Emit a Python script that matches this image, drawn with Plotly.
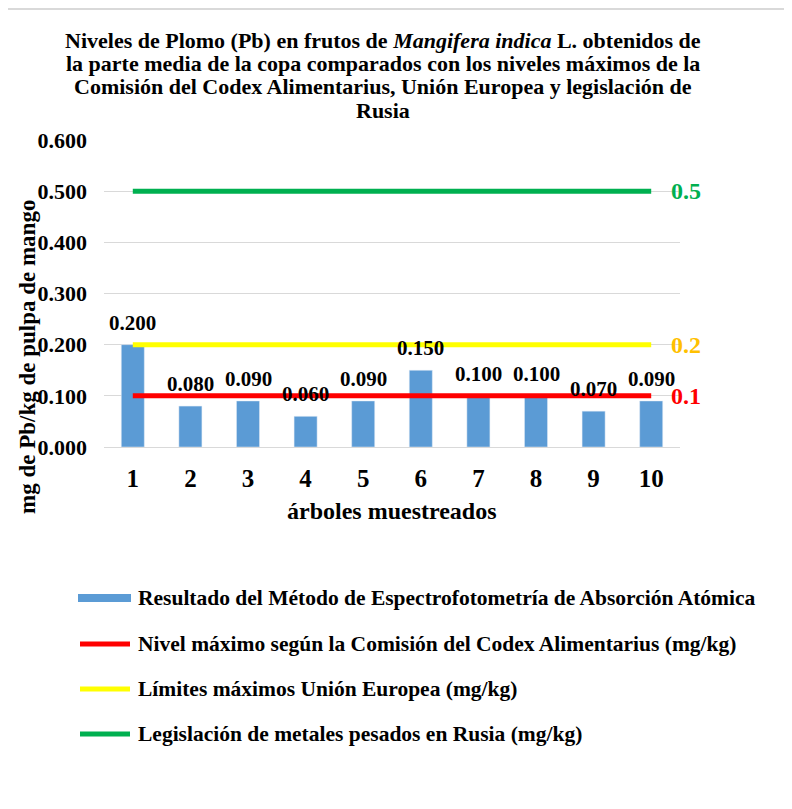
import plotly.graph_objects as go

# ---------------- data ----------------
trees = ["1", "2", "3", "4", "5", "6", "7", "8", "9", "10"]
pb_values = [0.200, 0.080, 0.090, 0.060, 0.090, 0.150, 0.100, 0.100, 0.070, 0.090]
codex_level = [0.1, 0.1, 0.1, 0.1, 0.1, 0.1, 0.1, 0.1, 0.1, 0.1]
ue_level = [0.2, 0.2, 0.2, 0.2, 0.2, 0.2, 0.2, 0.2, 0.2, 0.2]
rusia_level = [0.5, 0.5, 0.5, 0.5, 0.5, 0.5, 0.5, 0.5, 0.5, 0.5]
level_labels = ["0.1", "0.2", "0.5"]
y_ticks = [0.0, 0.1, 0.2, 0.3, 0.4, 0.5, 0.6]

series_names = [
    "Resultado del Método de Espectrofotometría de Absorción Atómica",
    "Nivel máximo según la Comisión del Codex Alimentarius (mg/kg)",
    "Límites máximos Unión Europea (mg/kg)",
    "Legislación de metales pesados en Rusia (mg/kg)",
]
title_lines = [
    "Niveles de Plomo (Pb) en frutos de <i>Mangifera indica</i> L. obtenidos de",
    "la parte media de la copa comparados con los niveles máximos de la",
    "Comisión del Codex Alimentarius, Unión Europea y legislación de",
    "Rusia",
]
x_title = "árboles muestreados"
y_title = "mg de Pb/kg de pulpa de mango"

# ---------------- styling ----------------
FONT = "Liberation Serif, Times New Roman, serif"
BAR_C = "#5B9BD5"
RED = "#FF0000"
YEL = "#FFFF00"
GRN = "#00B050"
GOLD = "#FFC000"
GRID = "#D9D9D9"

OFF = 8  # page body margin
W, H = 784, 801
L, T = 96, 132
R = W - 672
B = H - 439
PW = W - L - R
PH = H - T - B

def fx(px):  # screen px -> paper x
    return (px - OFF - L) / PW

def fy(py):  # screen px -> paper y
    return (H - B - (py - OFF)) / PH

fig = go.Figure()
fig.add_trace(go.Bar(x=trees, y=pb_values, marker_color=BAR_C, width=0.4,
                     name=series_names[0], showlegend=False))
line_specs = [(codex_level, RED, series_names[1]),
              (ue_level, YEL, series_names[2]),
              (rusia_level, GRN, series_names[3])]
for vals, col, nm in line_specs:
    fig.add_trace(go.Scatter(x=trees, y=vals, mode="lines", name=nm,
                             line=dict(color=col, width=5), showlegend=False))

annotations = []
# title lines
for ty, line in zip([40, 63, 87, 111], title_lines):
    annotations.append(dict(x=fx(383), y=fy(ty), xref="paper", yref="paper", text=line,
                            showarrow=False, xanchor="center", yanchor="middle",
                            font=dict(family=FONT, size=22, color="black", weight="bold")))
# bar data labels (category index positions)
for i, v in enumerate(pb_values):
    annotations.append(dict(x=i, y=v, xref="x", yref="y", text=f"{v:.3f}",
                            showarrow=False, yanchor="bottom", yshift=8,
                            font=dict(family=FONT, size=21, color="black", weight="bold")))
# level labels on the right
for vals, lab, col in [(codex_level, level_labels[0], RED),
                       (ue_level, level_labels[1], GOLD),
                       (rusia_level, level_labels[2], GRN)]:
    annotations.append(dict(x=len(trees) - 1, y=vals[-1], xref="x", yref="y", text=lab,
                            showarrow=False, xanchor="left", xshift=18,
                            font=dict(family=FONT, size=24, color=col, weight="bold")))
# axis titles
annotations.append(dict(x=fx(27), y=fy(357), xref="paper", yref="paper",
                        text=y_title, textangle=-90, showarrow=False,
                        xanchor="center", yanchor="middle",
                        font=dict(family=FONT, size=23, color="black", weight="bold")))
annotations.append(dict(x=fx(392), y=fy(511), xref="paper", yref="paper",
                        text=x_title, showarrow=False, xanchor="center", yanchor="middle",
                        font=dict(family=FONT, size=24, color="black", weight="bold")))

# manual legend
shapes = []
leg_y = [598, 644, 689, 734]
leg_cols = [BAR_C, RED, YEL, GRN]
for i, (yy, col, nm) in enumerate(zip(leg_y, leg_cols, series_names)):
    if i == 0:
        shapes.append(dict(type="rect", xref="paper", yref="paper",
                           x0=fx(78), x1=fx(131), y0=fy(594), y1=fy(602),
                           fillcolor=col, line=dict(width=0)))
    else:
        shapes.append(dict(type="line", xref="paper", yref="paper",
                           x0=fx(80), x1=fx(130), y0=fy(yy), y1=fy(yy),
                           line=dict(color=col, width=5)))
    annotations.append(dict(x=fx(136), y=fy(yy), xref="paper", yref="paper",
                            text=nm, showarrow=False, xanchor="left", yanchor="middle",
                            font=dict(family=FONT, size=21.5, color="black", weight="bold")))

# top border line
shapes.append(dict(type="line", xref="paper", yref="paper", x0=fx(OFF), x1=fx(OFF + W),
                   y0=fy(OFF + 1), y1=fy(OFF + 1), line=dict(color="#D9D9D9", width=2)))

fig.update_layout(
    width=W, height=H,
    margin=dict(l=L, r=R, t=T, b=B, pad=0, autoexpand=False),
    paper_bgcolor="white", plot_bgcolor="white",
    font=dict(family=FONT, color="black"),
    annotations=annotations,
    shapes=shapes,
)
fig.update_xaxes(type="category", range=[-0.5, 9.5], showgrid=False, showline=False,
                 zeroline=False, ticks="", ticklabelstandoff=14, automargin=False,
                 tickfont=dict(family=FONT, size=25, color="black", weight="bold"))
fig.update_yaxes(range=[0, 0.6], tickvals=y_ticks, tickformat=".3f",
                 showgrid=True, gridcolor=GRID, gridwidth=1.3, zeroline=True,
                 zerolinecolor=GRID, zerolinewidth=1.3, showline=False, ticks="",
                 ticklabelstandoff=16, automargin=False,
                 tickfont=dict(family=FONT, size=22, color="black", weight="bold"))

fig.write_html("out.html")
